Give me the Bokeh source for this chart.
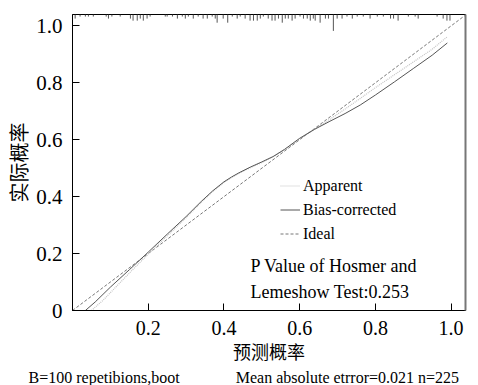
from bokeh.plotting import figure
from bokeh.models import Range1d, Legend, LegendItem, Label, LinearAxis, FixedTicker, Title
from bokeh.embed import file_html
from bokeh.resources import INLINE

# ---- data ----
ideal = [0.0, 1.04]

apparent_x = [0.05, 0.08, 0.12, 0.16, 0.20, 0.25, 0.30, 0.34, 0.37, 0.40, 0.42, 0.44, 0.47, 0.50, 0.53,
              0.56, 0.60, 0.64, 0.68, 0.72, 0.76, 0.80, 0.85, 0.90, 0.95, 0.99]
apparent_y = [0.00, 0.035, 0.090, 0.145, 0.198, 0.262, 0.326, 0.380, 0.418, 0.450, 0.467, 0.482, 0.502,
              0.520, 0.540, 0.565, 0.603, 0.638, 0.672, 0.708, 0.745, 0.783, 0.828, 0.873, 0.918, 0.962]

bias_x = [0.034, 0.06, 0.10, 0.15, 0.20, 0.25, 0.30, 0.34, 0.37, 0.40, 0.42, 0.44, 0.47, 0.50, 0.53,
          0.56, 0.60, 0.64, 0.68, 0.72, 0.76, 0.80, 0.85, 0.90, 0.95, 0.99]
bias_y = [0.00, 0.030, 0.082, 0.143, 0.205, 0.268, 0.330, 0.383, 0.420, 0.452, 0.469, 0.484, 0.504,
          0.522, 0.541, 0.566, 0.605, 0.637, 0.665, 0.692, 0.722, 0.757, 0.803, 0.850, 0.897, 0.940]

# rug of predicted probabilities (position, relative frequency)
rug_x = [0.007, 0.02, 0.034, 0.042, 0.055, 0.089, 0.095, 0.104, 0.126, 0.153, 0.16, 0.171, 0.179, 0.187,
         0.197, 0.205, 0.245, 0.25, 0.264, 0.277, 0.29, 0.298, 0.306, 0.319, 0.332, 0.345, 0.356, 0.369,
         0.377, 0.382, 0.398, 0.41, 0.422, 0.435, 0.443, 0.456, 0.469, 0.478, 0.488, 0.496, 0.504, 0.517,
         0.527, 0.535, 0.544, 0.554, 0.562, 0.57, 0.58, 0.588, 0.601, 0.61, 0.62, 0.628, 0.636, 0.641,
         0.654, 0.668, 0.676, 0.689, 0.699, 0.712, 0.725, 0.739, 0.752, 0.768, 0.786, 0.805, 0.821, 0.84,
         0.848, 0.86, 0.887, 0.905, 0.913, 0.963, 0.979, 0.989, 0.997]
rug_n = [2, 1, 1, 1, 1, 1, 2, 1, 1, 2, 3, 3, 2, 3,
         2, 1, 1, 1, 1, 2, 1, 2, 1, 2, 1, 2, 2, 1,
         2, 4, 2, 4, 1, 2, 1, 2, 3, 3, 3, 2, 1, 2,
         3, 3, 2, 4, 2, 2, 3, 2, 1, 2, 2, 3, 2, 3,
         4, 2, 2, 8, 2, 2, 1, 2, 1, 1, 2, 1, 1, 2,
         2, 3, 1, 1, 2, 1, 2, 3, 3]

x_ticks = [0.2, 0.4, 0.6, 0.8, 1.0]
x_tick_labels = ["0.2", "0.4", "0.6", "0.8", "1.0"]
y_ticks = [0.0, 0.2, 0.4, 0.6, 0.8, 1.0]
y_tick_labels = ["0", "0.2", "0.4", "0.6", "0.8", "1.0"]

legend_labels = ["Apparent", "Bias-corrected", "Ideal"]
hl_text = ["P Value of Hosmer and", "Lemeshow Test:0.253"]
caption = "B=100 repetibions,boot" + "\u00a0" * 14 + "Mean absolute etrror=0.021 n=225"
x_title = "预测概率"
y_title = "实际概率"

SERIF = "Liberation Serif"
CJK = "Noto Sans CJK SC"

p = figure(width=478, height=385, output_backend="svg", toolbar_location=None,
           x_range=Range1d(0, 1.038), y_range=Range1d(0, 1.04),
           min_border_left=72, min_border_right=13, min_border_top=14, min_border_bottom=73)
p.grid.visible = False
p.outline_line_color = "black"
p.outline_line_width = 1
p.background_fill_color = "white"
p.border_fill_color = "white"

# axes
p.xaxis.ticker = FixedTicker(ticks=x_ticks)
p.xaxis.major_label_overrides = {t: l for t, l in zip(x_ticks, x_tick_labels)}
p.yaxis.ticker = FixedTicker(ticks=y_ticks)
p.yaxis.major_label_overrides = {t: l for t, l in zip(y_ticks, y_tick_labels)}
for ax in (p.xaxis, p.yaxis):
    ax.major_tick_in = 7
    ax.major_tick_out = 0
    ax.minor_tick_line_color = None
    ax.axis_line_color = "black"
    ax.major_tick_line_color = "black"
    ax.major_label_text_font = SERIF
    ax.major_label_text_color = "black"
    ax.axis_label_text_font = CJK
    ax.axis_label_text_font_style = "normal"
    ax.axis_label_text_color = "black"
p.xaxis.major_label_text_font_size = "20px"
p.yaxis.major_label_text_font_size = "21px"
p.xaxis.major_label_standoff = 10
p.yaxis.major_label_standoff = 10
p.xaxis.axis_label = x_title
p.yaxis.axis_label = y_title
p.xaxis.axis_label_text_font_size = "18px"
p.yaxis.axis_label_text_font_size = "20px"
p.xaxis.axis_label_standoff = 0
p.yaxis.axis_label_standoff = 0

right = LinearAxis(ticker=FixedTicker(ticks=[]), axis_line_color="#777777", axis_line_width=2,
                   major_label_text_font_size="0px", major_tick_line_color=None,
                   minor_tick_line_color=None)
p.add_layout(right, "right")

p.add_layout(Title(text=caption, align="left", offset=-44, text_font=SERIF, text_font_size="16px",
                   text_font_style="normal", text_color="black", standoff=0), "below")

# rug along the top
scale = 0.0072
top = p.y_range.end
p.segment(x0=rug_x, y0=[top] * len(rug_x), x1=rug_x, y1=[top - scale * n for n in rug_n],
          line_color="#555555", line_width=1)

# curves
r_ideal = p.line(ideal, ideal, line_color="#777777", line_dash="3 2", line_width=1)
r_app = p.line(apparent_x, apparent_y, line_color="#c4c4c4", line_dash="1 1", line_width=1.2)
r_bias = p.line(bias_x, bias_y, line_color="#555555", line_width=1)

legend = Legend(items=[LegendItem(label=legend_labels[0], renderers=[r_app]),
                       LegendItem(label=legend_labels[1], renderers=[r_bias]),
                       LegendItem(label=legend_labels[2], renderers=[r_ideal])],
                location=(208, 66), padding=0, margin=0, spacing=3,
                glyph_width=20, glyph_height=21, label_height=21, label_standoff=3,
                label_text_font=SERIF, label_text_font_size="16px", label_text_color="black",
                border_line_alpha=0, background_fill_alpha=0)
p.add_layout(legend, "center")

for i, t in enumerate(hl_text):
    p.add_layout(Label(x=178, y=45 - i * 26, x_units="screen", y_units="screen", text=t,
                       text_font=SERIF, text_font_size="18px", text_color="black",
                       text_baseline="middle"))

open("out.html", "w").write(file_html(p, INLINE))
